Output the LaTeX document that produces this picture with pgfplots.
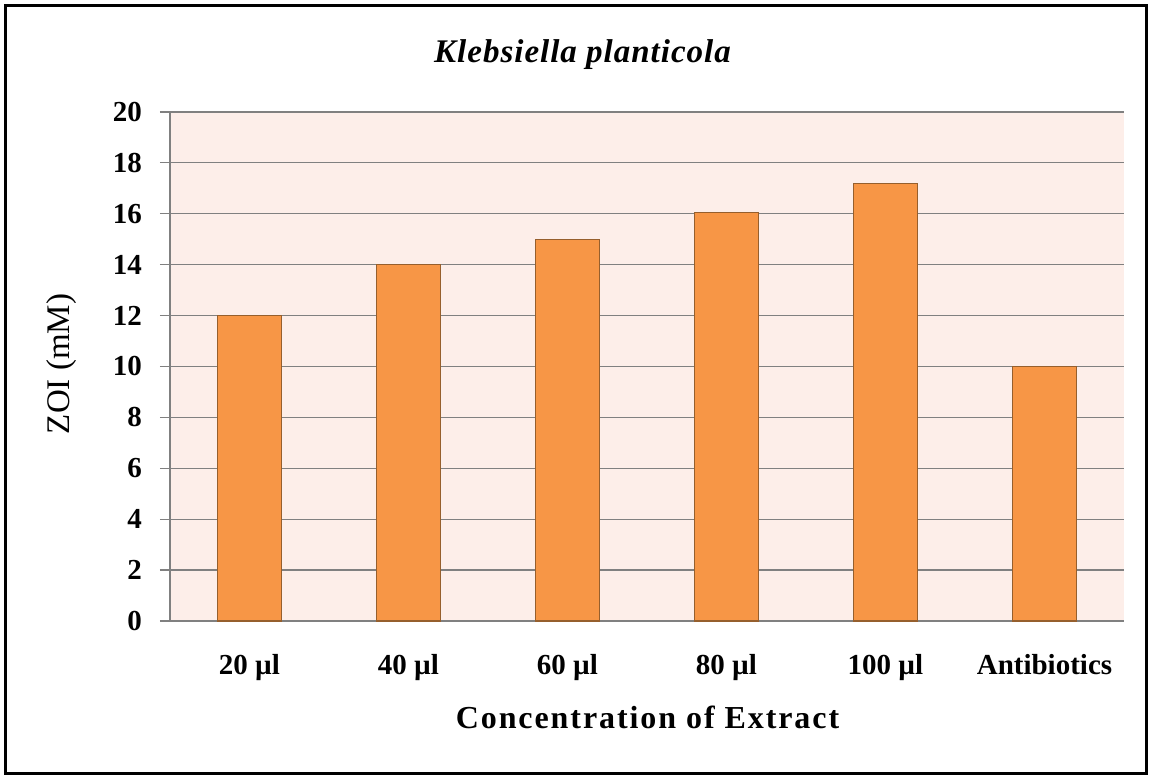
\documentclass[border=0pt]{standalone}
\usepackage{fontspec}
\setmainfont{Liberation Serif}
\newfontfamily\spacedfont[LetterSpace=6]{Liberation Serif}
\newfontfamily\titlefont[LetterSpace=3]{Liberation Serif}
\usepackage{pgfplots}
\pgfplotsset{compat=1.18}
\definecolor{plotbg}{RGB}{253,238,233}
\definecolor{barfill}{RGB}{247,150,70}
\definecolor{barline}{RGB}{150,95,45}
\definecolor{gridc}{RGB}{128,128,128}
\begin{document}
\begin{tikzpicture}
\useasboundingbox[fill=white] (-85pt,-79.5pt) rectangle (491pt,310.5pt);
\draw[line width=1.5pt,black] (-82pt,-76.5pt) rectangle (488pt,307.5pt);
\begin{axis}[
  at={(0pt,0pt)}, anchor=south west,
  scale only axis, width=477pt, height=254.5pt,
  xmin=-0.5, xmax=5.5, ymin=0, ymax=20,
  ytick={0,2,...,20},
  xtick={0,1,2,3,4,5},
  xticklabels={20 µl,40 µl,60 µl,80 µl,100 µl,Antibiotics},
  axis x line=bottom, axis y line=left,
  axis line style={draw=gridc, line width=0.6pt, -},
  x axis line style={-},
  y axis line style={-},
  ymajorgrids, grid style={draw=gridc, line width=0.6pt},
  major x tick style={draw=none},
  major y tick style={draw=gridc, line width=0.6pt},
  tick align=outside, major tick length=5pt,
  axis background/.style={fill=plotbg},
  ticklabel style={font=\fontsize{14.5}{16}\selectfont\bfseries},
  /pgf/number format/assume math mode=true,
  yticklabel style={xshift=-5.5pt},
  xticklabel style={yshift=-8pt},
  ybar, bar width=32pt,
  clip=false,
]
\addplot[fill=barfill, draw=barline, line width=0.6pt] coordinates {
 (0,12) (1,14) (2,15) (3,16.05) (4,17.2) (5,10)
};
\end{axis}
\node at (206.25pt,283pt) {\fontsize{16.5}{19}\selectfont\titlefont\bfseries\itshape Klebsiella planticola};
\node[rotate=90] at (-54pt,128.5pt) {\fontsize{16.5}{19}\selectfont ZOI (mM)};
\node at (238.75pt,-48pt) {\fontsize{16}{19}\selectfont\spacedfont\bfseries Concentration of Extract};
\end{tikzpicture}
\end{document}
